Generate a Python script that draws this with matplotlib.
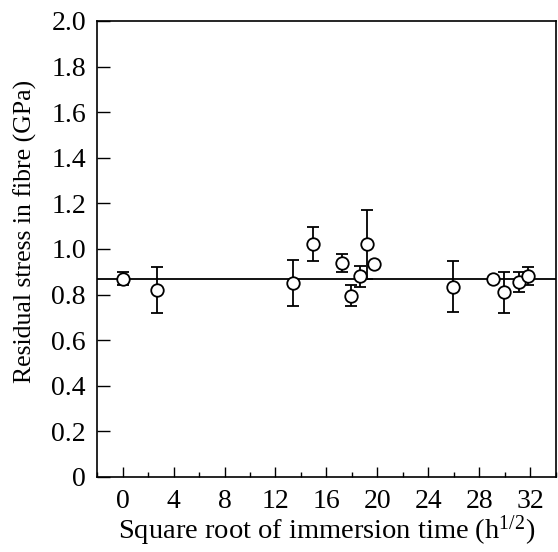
import numpy as np
import matplotlib
matplotlib.use("Agg")
import matplotlib.pyplot as plt
from matplotlib.ticker import MultipleLocator

plt.rcParams['font.family'] = ['Liberation Serif', 'DejaVu Serif']
plt.rcParams['mathtext.default'] = 'regular'

# data
sqrt_time = [0.0, 2.7, 13.4, 14.95, 17.2, 17.9, 18.6, 19.2, 19.75, 25.9, 29.1, 29.9, 31.1, 31.8]
stress = [0.87, 0.82, 0.85, 1.02, 0.94, 0.795, 0.88, 1.02, 0.935, 0.835, 0.87, 0.81, 0.855, 0.88]
stress_err = [0.03, 0.10, 0.10, 0.075, 0.04, 0.045, 0.045, 0.15, 0.0, 0.11, 0.0, 0.09, 0.045, 0.04]
mean_stress = 0.87

fig = plt.figure(figsize=(5.58, 5.52), dpi=100)
ax = fig.add_axes([0.174, 0.136, 0.822, 0.826])

ax.axhline(mean_stress, color='black', lw=1.3, zorder=1)
ax.errorbar(sqrt_time, stress, yerr=stress_err, fmt='o', color='black',
            mfc='white', mec='black', ms=9, mew=1.3, elinewidth=1.3,
            capsize=4.5, capthick=1.3, zorder=3)

ax.set_xlim(-2, 34)
ax.set_ylim(0, 2.0)
ax.xaxis.set_major_locator(MultipleLocator(4))
ax.xaxis.set_minor_locator(MultipleLocator(2))
ax.set_yticks(np.arange(0, 2.01, 0.2))
ax.set_yticklabels(['0'] + [f'{v:.1f}' for v in np.arange(0.2, 2.01, 0.2)])

ax.tick_params(axis='both', which='major', direction='in', width=1, labelsize=20)
ax.tick_params(axis='y', which='major', length=9, pad=8)
ax.tick_params(axis='x', which='major', length=7, pad=9)
ax.tick_params(axis='x', which='minor', direction='in', length=3.5, width=1)
for s in ax.spines.values():
    s.set_linewidth(1.2)

ax.set_xlabel('Square root of immersion time (h$^{1/2}$)', fontsize=20.5)
ax.xaxis.label.set_va('baseline')
ax.xaxis.set_label_coords(0.5, -0.136)
ax.set_ylabel('Residual stress in fibre (GPa)', fontsize=18.5)
ax.yaxis.set_label_coords(-0.131, 0.539)

fig.savefig('out.png', dpi=100)
